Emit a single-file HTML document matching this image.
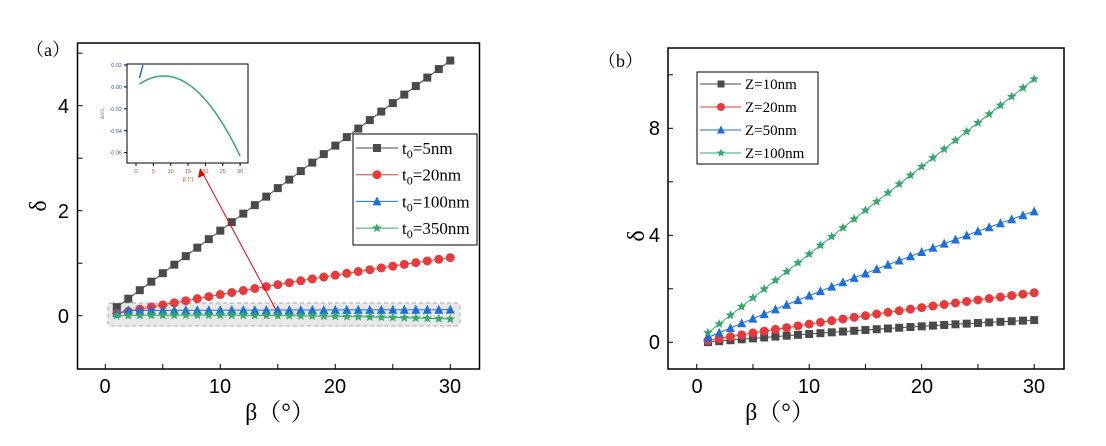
<!DOCTYPE html>
<html><head><meta charset="utf-8"><style>
html,body{margin:0;padding:0;background:#fff;}
svg{display:block;}
.t{font-family:"Liberation Sans",sans-serif;font-size:20px;fill:#000;}
.s{font-family:"Liberation Serif","Noto Serif CJK SC",serif;fill:#000;}
</style></head><body>
<svg id="c" width="1106" height="446" viewBox="0 0 1106 446" xmlns="http://www.w3.org/2000/svg">
<rect width="1106" height="446" fill="#fff"/>
<rect x="108" y="303" width="352" height="23" rx="3" fill="#e8e8e8" stroke="#aaa" stroke-dasharray="4,3"/>
<g id="L"></g>
<rect x="77.5" y="43" width="402" height="326" fill="none" stroke="#000" stroke-width="1.5"/>
<text class="s" x="26" y="56" font-size="18">（a）</text>
<text class="t" x="69" y="323" text-anchor="end">0</text>
<text class="t" x="69" y="218" text-anchor="end">2</text>
<text class="t" x="69" y="113" text-anchor="end">4</text>
<text class="t" x="105" y="393" text-anchor="middle">0</text>
<text class="t" x="220" y="393" text-anchor="middle">10</text>
<text class="t" x="335" y="393" text-anchor="middle">20</text>
<text class="t" x="450" y="393" text-anchor="middle">30</text>
<text class="s" x="280" y="420" font-size="24" text-anchor="middle">β（°）</text>
<text class="s" x="0" y="0" font-size="24" transform="translate(46,206) rotate(-90)" text-anchor="middle">δ</text>
<line x1="276" y1="310" x2="202" y2="172" stroke="#e00" stroke-width="1"/>
<polygon points="200,168 198,178 205,175" fill="#e00"/>
<rect x="127" y="64" width="121" height="99" fill="#fff" stroke="#000"/>
<g id="I"></g>
<rect x="353" y="134" width="124" height="111" fill="#fff" stroke="#000"/>
<g id="LL"></g>
<g id="R"></g>
<rect x="668" y="48" width="396" height="321" fill="none" stroke="#000" stroke-width="1.5"/>
<text class="s" x="598" y="67" font-size="18">（b）</text>
<text class="t" x="660" y="349" text-anchor="end">0</text>
<text class="t" x="660" y="242" text-anchor="end">4</text>
<text class="t" x="660" y="135" text-anchor="end">8</text>
<text class="t" x="697" y="393" text-anchor="middle">0</text>
<text class="t" x="809" y="393" text-anchor="middle">10</text>
<text class="t" x="922" y="393" text-anchor="middle">20</text>
<text class="t" x="1034" y="393" text-anchor="middle">30</text>
<text class="s" x="780" y="420" font-size="24" text-anchor="middle">β（°）</text>
<text class="s" x="0" y="0" font-size="24" transform="translate(644,236) rotate(-90)" text-anchor="middle">δ</text>
<rect x="697" y="72" width="121" height="92" fill="#fff" stroke="#000"/>
<g id="RL"></g>
</svg>
<script>
var NS="http://www.w3.org/2000/svg";
function el(p,n,a){var e=document.createElementNS(NS,n);for(var k in a)e.setAttribute(k,a[k]);p.appendChild(e);return e;}
function star(cx,cy,r){var p=[];for(var i=0;i<10;i++){var rr=i%2?r*0.45:r;var a=-Math.PI/2+i*Math.PI/5;p.push((cx+rr*Math.cos(a)).toFixed(1)+","+(cy+rr*Math.sin(a)).toFixed(1));}return p.join(" ");}
function mark(g,t,x,y,c,s){
 if(t=="sq")el(g,"rect",{x:x-s/2,y:y-s/2,width:s,height:s,fill:c});
 else if(t=="ci")el(g,"circle",{cx:x,cy:y,r:s/2+0.5,fill:c});
 else if(t=="tr")el(g,"polygon",{points:(x)+","+(y-s/2-1)+" "+(x-s/2-0.5)+","+(y+s/2)+" "+(x+s/2+0.5)+","+(y+s/2),fill:c});
 else el(g,"polygon",{points:star(x,y,s/2+1),fill:c});
}
function series(g,f,X,Y,t,c,s){
 var pts=[];for(var i=1;i<=30;i++)pts.push([X(i),Y(f(i))]);
 el(g,"polyline",{points:pts.map(p=>p.join(",")).join(" "),fill:"none",stroke:c,"stroke-width":1});
 pts.forEach(p=>mark(g,t,p[0],p[1],c,s));
}
function ticks(g,x0,y0,x1,y1,xt,yt,len){
 xt.forEach(x=>el(g,"line",{x1:x,y1:y1,x2:x,y2:y1-len[0],stroke:"#000"}));
 yt.forEach(y=>el(g,"line",{x1:x0,y1:y,x2:x0+len[1],y2:y,stroke:"#000"}));
}
var C={k:"#4a4a4a",r:"#e83a3a",b:"#1e6fd9",g:"#35a86a"};
var L=document.getElementById("L");
var LX=x=>105.3+11.5*x, LY=v=>315.7-52.5*v;
ticks(L,77.5,43,479.5,369,[0,5,10,15,20,25,30].map(LX),[0,1,2,3,4,5].map(LY),[5,5]);
series(L,x=>0.162*x,LX,LY,"sq",C.k,8);
series(L,x=>0.042*x-0.00017*x*x,LX,LY,"ci",C.r,8);
series(L,x=>x<2?0.05:0.1+0.0005*x,LX,LY,"tr",C.b,8);
series(L,x=>0.01-0.000151*(x-8)*(x-8),LX,LY,"st",C.g,8);
var I=document.getElementById("I");
var IX=x=>136+3.47*x, IY=v=>65+(0.02-v)*1096;
var gp=[];for(var i=1;i<=30;i++)gp.push(IX(i)+","+IY(0.01-0.000151*(i-8)*(i-8)));
el(I,"polyline",{points:gp.join(" "),fill:"none",stroke:C.g,"stroke-width":1.5});
el(I,"line",{x1:IX(1),y1:IY(0.008),x2:IX(2),y2:IY(0.02),stroke:C.b,"stroke-width":1.5});
[0,0.02,-0.02,-0.04,-0.06].forEach(function(v){el(I,"line",{x1:127,y1:IY(v),x2:124,y2:IY(v),stroke:"#000"});
 var t=el(I,"text",{x:122,y:IY(v)+2,"font-size":5.5,"text-anchor":"end",fill:"#1e5fb0","font-family":"Liberation Sans"});t.textContent=v.toFixed(2);});
[0,5,10,15,20,25,30].forEach(function(v){el(I,"line",{x1:IX(v),y1:163,x2:IX(v),y2:166,stroke:"#000"});
 var t=el(I,"text",{x:IX(v),y:173,"font-size":5.5,"text-anchor":"middle",fill:"#c05020","font-family":"Liberation Sans"});t.textContent=v;});
var t=el(I,"text",{x:IX(15),y:181,"font-size":5.5,"text-anchor":"middle",fill:"#c05020","font-family":"Liberation Sans"});t.textContent="β (°)";
t=el(I,"text",{x:0,y:0,"font-size":5,"text-anchor":"middle",fill:"#888","font-family":"Liberation Sans",transform:"translate(104,113) rotate(-90)"});t.textContent="Δδ/δ₀";
var LL=document.getElementById("LL");
[["sq",C.k,"5nm"],["ci",C.r,"20nm"],["tr",C.b,"100nm"],["st",C.g,"350nm"]].forEach(function(d,i){
 var y=148+i*26.7;
 el(LL,"line",{x1:356,y1:y,x2:398,y2:y,stroke:d[1]});mark(LL,d[0],377,y,d[1],8);
 var t=el(LL,"text",{x:402,y:y+6,"font-size":17,"font-family":"Liberation Serif"});
 t.innerHTML='t<tspan font-size="12" dy="4">0</tspan><tspan dy="-4">='+d[2]+'</tspan>';
});
var R=document.getElementById("R");
var RX=x=>696.7+11.25*x, RY=v=>342.3-26.75*v;
ticks(R,668,48,1064,369,[0,5,10,15,20,25,30].map(RX),[0,2,4,6,8,10].map(RY),[5,5]);
series(R,x=>0.0367*x-0.000267*x*x-0.03,RX,RY,"sq",C.k,8);
series(R,x=>0.0712*x-0.000317*x*x,RX,RY,"ci",C.r,8);
series(R,x=>0.18*x-0.00056*x*x,RX,RY,"tr",C.b,8);
series(R,x=>0.327*x+0.03,RX,RY,"st",C.g,8);
var RL=document.getElementById("RL");
[["sq",C.k,"Z=10nm"],["ci",C.r,"Z=20nm"],["tr",C.b,"Z=50nm"],["st",C.g,"Z=100nm"]].forEach(function(d,i){
 var y=84+i*23;
 el(RL,"line",{x1:700,y1:y,x2:741,y2:y,stroke:d[1]});mark(RL,d[0],721,y,d[1],7);
 var t=el(RL,"text",{x:745,y:y+5,"font-size":15,"font-family":"Liberation Serif"});t.textContent=d[2];
});
</script>
</body></html>
